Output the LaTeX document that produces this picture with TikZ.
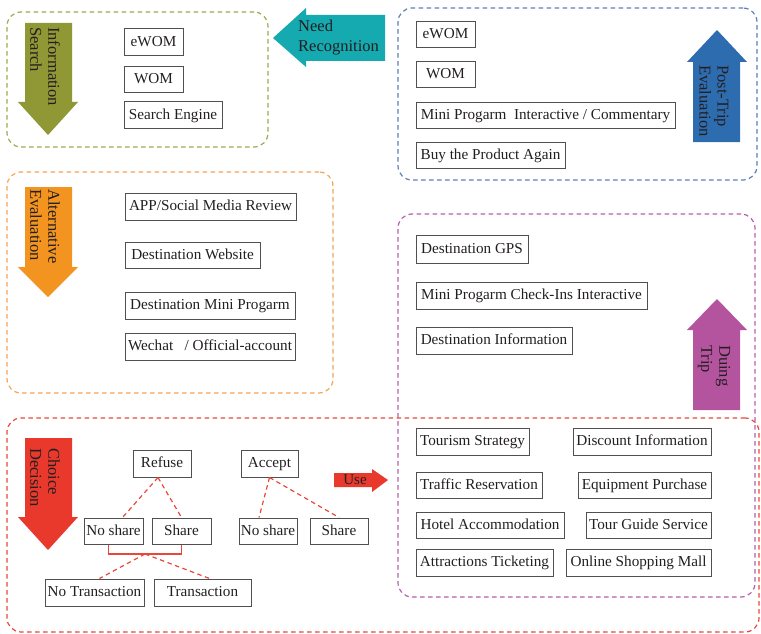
\documentclass[tikz,border=0pt]{standalone}
\usepackage{fontspec}
\setmainfont{Liberation Serif}
\usetikzlibrary{fit,calc}
\definecolor{txt}{RGB}{35,31,32}
\definecolor{boxgray}{RGB}{80,80,80}
\definecolor{aOlive}{RGB}{143,152,52}
\definecolor{aOrange}{RGB}{242,148,31}
\definecolor{aRed}{RGB}{233,57,45}
\definecolor{aTeal}{RGB}{20,170,176}
\definecolor{aBlue}{RGB}{46,108,176}
\definecolor{aPurple}{RGB}{181,84,158}
\definecolor{gOlive}{RGB}{160,168,80}
\definecolor{gOrange}{RGB}{243,165,85}
\definecolor{gBlue}{RGB}{95,125,185}
\definecolor{gPurple}{RGB}{180,95,170}
\definecolor{gRed}{RGB}{232,72,60}
\begin{document}
\begin{tikzpicture}[x=1pt,y=-1pt,
  bx/.style={draw=boxgray, line width=1pt, inner sep=0pt, text=txt,
    text height=11pt, text depth=3pt,
    font=\fontsize{15.2}{17}\selectfont},
  sz/.style 2 args={minimum width=#1pt, minimum height=#2pt},
  grp/.style={draw=#1, dash pattern=on 4.5pt off 3.5pt, line width=1.2pt,
    rounded corners=14pt, inner sep=0pt},
  lbl/.style={font=\fontsize{16.5}{18}\selectfont, align=left, text=txt, inner sep=0pt},
  link/.style={draw=gRed, dash pattern=on 4.5pt off 3.5pt, line width=1.2pt}]
\useasboundingbox (0,0) rectangle (761,634);

% stage containers
\node[grp=gOlive,  fit={(7,12) (268,147)}]    (gsearch) {};
\node[grp=gBlue,   fit={(398,8) (757,180)}]   (gpost) {};
\node[grp=gOrange, fit={(7,172) (333,393)}]   (galt) {};
\node[grp=gPurple, fit={(398,214) (755,597)}] (gduring) {};
\node[grp=gRed,    fit={(7,418) (759,632)}]   (gchoice) {};

% stage arrows
\fill[aOlive] (25,23) -- (72,23) -- (72,102) -- (78,102) -- (48,135) -- (18,102) -- (25,102) -- cycle;
\node[lbl, rotate=-90, anchor=west] (tsearch) at (45,27) {Information\\Search};

\fill[aOrange] (25,187) -- (72,187) -- (72,267) -- (78,267) -- (48,297) -- (18,267) -- (25,267) -- cycle;
\node[lbl, rotate=-90, anchor=west] (talt) at (45,189) {Alternative\\Evaluation};

\fill[aRed] (25,438) -- (72,438) -- (72,517) -- (78,517) -- (48,550) -- (18,517) -- (25,517) -- cycle;
\node[lbl, rotate=-90, anchor=west] (tchoice) at (45,448) {Choice\\Decision};

\fill[aTeal] (385,15) -- (306,15) -- (306,8) -- (273,38) -- (306,67) -- (306,61) -- (385,61) -- cycle;
\node[lbl, font=\fontsize{16.5}{20}\selectfont, anchor=north west] (tneed) at (298,20) {Need\\Recognition};

\fill[aBlue] (693,142) -- (693,62) -- (687,62) -- (717,30) -- (747,62) -- (740,62) -- (740,142) -- cycle;
\node[lbl, rotate=-90, anchor=west] (tpost) at (714,65) {Post-Trip\\Evaluation};

\fill[aPurple] (693,410) -- (693,330) -- (687,330) -- (717,299) -- (747,330) -- (740,330) -- (740,410) -- cycle;
\node[lbl, rotate=-90, anchor=west] (tduring) at (714,345) {Duing\\Trip};

\fill[aRed] (334,473) -- (372,473) -- (372,469) -- (388,480) -- (372,492) -- (372,487) -- (334,487) -- cycle;
\node[lbl, font=\fontsize{15}{17}\selectfont] (tuse) at (355,480) {Use};

% information search
\node[bx, sz={59}{27}] (s1) at (153.5,42.5) {eWOM};
\node[bx, sz={59}{26}] (s2) at (153.5,80) {WOM};
\node[bx, sz={98}{26}] (s3) at (173,115) {Search Engine};

% post-trip evaluation
\node[bx, sz={59}{26}]  (p1) at (445.5,35) {eWOM};
\node[bx, sz={59}{26}]  (p2) at (445.5,75) {WOM};
\node[bx, sz={259}{25}] (p3) at (545.5,115.5) {Mini Progarm\ \ Interactive / Commentary};
\node[bx, sz={149}{26}] (p4) at (490.5,155) {Buy the Product Again};

% alternative evaluation
\node[bx, sz={171}{27}] (a1) at (210.5,206.5) {APP/Social Media Review};
\node[bx, sz={135}{26}] (a2) at (192.5,255) {Destination Website};
\node[bx, sz={170}{27}] (a3) at (210,305.5) {Destination Mini Progarm};
\node[bx, sz={170}{27}] (a4) at (210,346.5) {Wechat\ \ \ / Official-account};

% during trip
\node[bx, sz={112}{28}] (d1) at (472,249) {Destination GPS};
\node[bx, sz={231}{27}] (d2) at (531.5,295.5) {Mini Progarm Check-Ins Interactive};
\node[bx, sz={156}{27}] (d3) at (494,340.5) {Destination Information};

% services in use
\node[bx, sz={113}{27}] (u1) at (472.5,441.5) {Tourism Strategy};
\node[bx, sz={138}{27}] (u2) at (642,441.5) {Discount Information};
\node[bx, sz={126}{26}] (u3) at (479,485) {Traffic Reservation};
\node[bx, sz={133}{26}] (u4) at (644.5,485) {Equipment Purchase};
\node[bx, sz={148}{26}] (u5) at (490,525) {Hotel Accommodation};
\node[bx, sz={125}{26}] (u6) at (648.5,525) {Tour Guide Service};
\node[bx, sz={137}{27}] (u7) at (484.5,562.5) {Attractions Ticketing};
\node[bx, sz={145}{27}] (u8) at (638.5,562.5) {Online Shopping Mall};

% choice decision tree
\node[bx, sz={58}{27}] (refuse) at (162,463.5) {Refuse};
\node[bx, sz={57}{27}] (accept) at (269.5,463.5) {Accept};
\node[bx, sz={59}{26}] (rns) at (113.5,531) {No share};
\node[bx, sz={59}{26}] (rsh) at (181.5,531) {Share};
\node[bx, sz={58}{26}] (ans) at (268,531) {No share};
\node[bx, sz={58}{26}] (ash) at (339,531) {Share};
\node[bx, sz={99}{27}] (notr) at (94.5,592.5) {No Transaction};
\node[bx, sz={97}{27}] (tr) at (202.5,592.5) {Transaction};

\draw[link] ($(refuse.south)+(-4,0)$) -- ($(rns.north)+(9,0)$);
\draw[link] ($(refuse.south)+(-4,0)$) -- (rsh.north);
\draw[link] (accept.south) -- ($(ans.north)+(-9,0)$);
\draw[link] (accept.south) -- (ash.north);
\coordinate (br) at (145,554);
\draw[draw=gRed, line width=1.2pt] ($(rns.south)+(-5,0)$) |- (br) -| (rsh.south);
\draw[link] (br) -- ($(notr.north)+(5,0)$);
\draw[link] (br) -- ($(tr.north)+(7,0)$);
\end{tikzpicture}
\end{document}
